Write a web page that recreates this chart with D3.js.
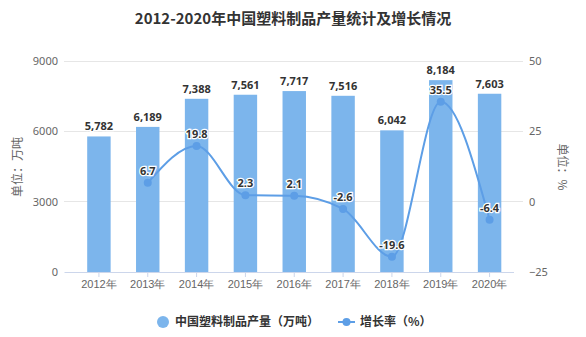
<!DOCTYPE html>
<html><head><meta charset="utf-8">
<script src="https://cdn.jsdelivr.net/npm/d3@7"></script>
<style>
body{margin:0;background:#fff;}
svg{display:block;font-family:"Noto Sans CJK SC","Noto Sans",sans-serif;}
</style></head>
<body><svg id="chart" width="586" height="337"></svg>
<script>
const years = ["2012年","2013年","2014年","2015年","2016年","2017年","2018年","2019年","2020年"];
const output = [5782, 6189, 7388, 7561, 7717, 7516, 6042, 8184, 7603];
const growth = [null, 6.7, 19.8, 2.3, 2.1, -2.6, -19.6, 35.5, -6.4];
const leftTicks = [0, 3000, 6000, 9000];
const rightTicks = [-25, 0, 25, 50];

const svg = d3.select("#chart");
const barColor = "#7cb5ec", lineColor = "#5d9ee6";

const x = d3.scaleBand().domain(years).range([74.5, 514]).paddingInner(0.52).paddingOuter(0.26);
const xc = d => x(d) + x.bandwidth() / 2;
const yL = d3.scaleLinear().domain([0, 9000]).range([272, 61]);
const yR = d3.scaleLinear().domain([-25, 50]).range([272, 61]);

// title
svg.append("text").attr("x", 293).attr("y", 24).attr("text-anchor", "middle")
  .attr("font-size", 15).attr("font-weight", "bold").attr("fill", "#333")
  .text("2012-2020年中国塑料制品产量统计及增长情况");

// gridlines
svg.append("g").selectAll("line").data(leftTicks.slice(1)).join("line")
  .attr("x1", 64).attr("x2", 523).attr("y1", d => yL(d)).attr("y2", d => yL(d))
  .attr("stroke", "#e6e6e6").attr("stroke-width", 1).attr("shape-rendering", "crispEdges");

// left axis
const gL = svg.append("g").attr("transform", "translate(64,0)")
  .call(d3.axisLeft(yL).tickValues(leftTicks).tickSize(0).tickPadding(6).tickFormat(d3.format("d")));
gL.select(".domain").remove();
gL.selectAll("text").attr("font-size", 11).attr("fill", "#666").attr("font-family", "Noto Sans, sans-serif");

// right axis
const gR = svg.append("g").attr("transform", "translate(523,0)")
  .call(d3.axisRight(yR).tickValues(rightTicks).tickSize(0).tickPadding(6));
gR.select(".domain").remove();
gR.selectAll("text").attr("font-size", 11).attr("fill", "#666").attr("font-family", "Noto Sans, sans-serif");

// axis titles
svg.append("text").attr("transform", "translate(22,167) rotate(-90)").attr("text-anchor", "middle")
  .attr("font-size", 12).attr("fill", "#666").text("单位：万吨");
svg.append("text").attr("transform", "translate(558,167) rotate(90)").attr("text-anchor", "middle")
  .attr("font-size", 12).attr("fill", "#666").text("单位：%");

// bars
svg.append("g").selectAll("rect").data(output).join("rect")
  .attr("x", (d, i) => x(years[i])).attr("width", x.bandwidth())
  .attr("y", d => yL(d)).attr("height", d => yL(0) - yL(d)).attr("fill", barColor);

// bottom axis
const gB = svg.append("g").attr("transform", "translate(0,272)")
  .call(d3.axisBottom(x).tickSize(5).tickPadding(3));
gB.select(".domain").attr("d", "M64.5,0.5H514").attr("stroke", "#ccd6eb");
gB.selectAll(".tick line").attr("stroke", "#ccd6eb");
gB.selectAll("text").attr("font-size", 11).attr("fill", "#666");

// bar value labels
const fmt = d3.format(",");
svg.append("g").selectAll("text").data(output).join("text")
  .attr("x", (d, i) => xc(years[i])).attr("y", d => yL(d) - 6)
  .attr("text-anchor", "middle").attr("font-size", 11).attr("font-weight", "bold")
  .attr("fill", "#333").attr("stroke", "#fff").attr("stroke-width", 2.5).attr("paint-order", "stroke")
  .attr("font-family", "Noto Sans, sans-serif")
  .text(d => fmt(d));

// growth line
const pts = growth.map((g, i) => ({ y: years[i], g })).filter(d => d.g !== null);
const line = d3.line().x(d => xc(d.y)).y(d => yR(d.g)).curve(d3.curveMonotoneX);
svg.append("path").datum(pts).attr("d", line).attr("fill", "none")
  .attr("stroke", lineColor).attr("stroke-width", 2);
svg.append("g").selectAll("circle").data(pts).join("circle")
  .attr("cx", d => xc(d.y)).attr("cy", d => yR(d.g)).attr("r", 4).attr("fill", lineColor);
svg.append("g").selectAll("text").data(pts).join("text")
  .attr("x", d => xc(d.y)).attr("y", d => yR(d.g) - 8)
  .attr("text-anchor", "middle").attr("font-size", 11).attr("font-weight", "bold")
  .attr("fill", "#333").attr("stroke", "#fff").attr("stroke-width", 2.5).attr("paint-order", "stroke")
  .attr("font-family", "Noto Sans, sans-serif")
  .text(d => d.g);

// legend
const lg = svg.append("g").attr("transform", "translate(0,322)");
lg.append("circle").attr("cx", 163).attr("cy", 0).attr("r", 6).attr("fill", barColor);
lg.append("text").attr("x", 175).attr("y", 4).attr("font-size", 12).attr("font-weight", "bold")
  .attr("fill", "#333").text("中国塑料制品产量（万吨）");
lg.append("line").attr("x1", 338).attr("x2", 355).attr("y1", 0).attr("y2", 0)
  .attr("stroke", lineColor).attr("stroke-width", 2);
lg.append("circle").attr("cx", 346.5).attr("cy", 0).attr("r", 4).attr("fill", lineColor);
lg.append("text").attr("x", 360).attr("y", 4).attr("font-size", 12).attr("font-weight", "bold")
  .attr("fill", "#333").text("增长率（%）");
</script></body></html>
